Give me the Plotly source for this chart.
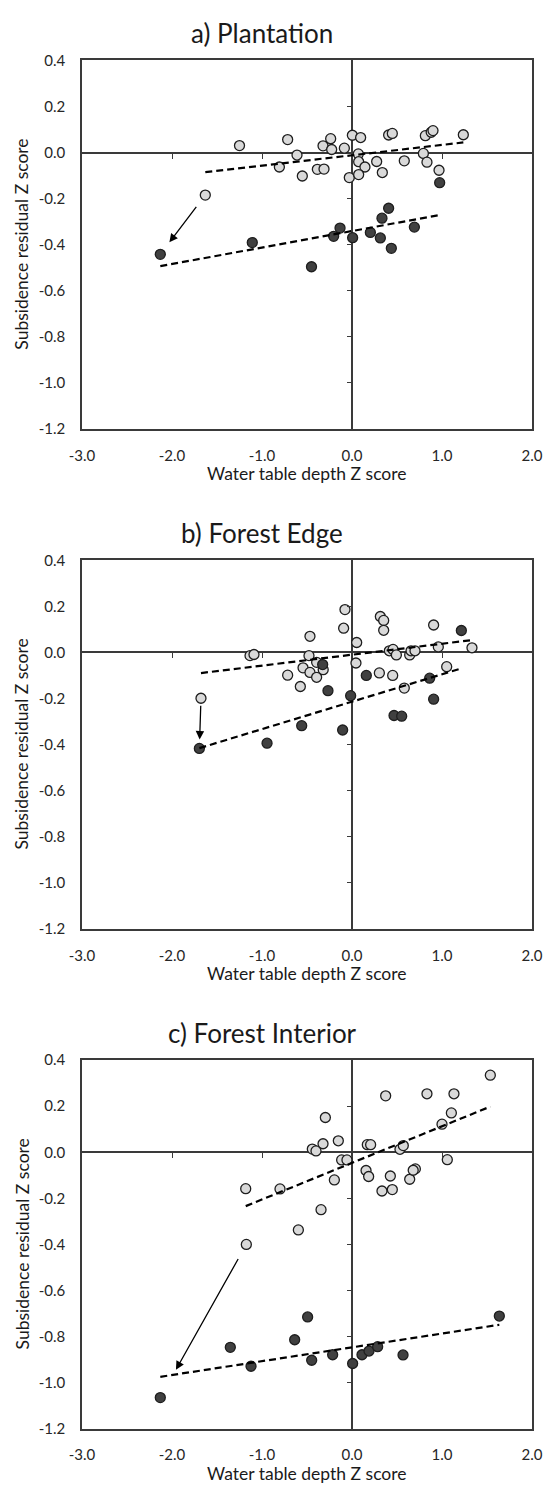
import plotly.graph_objects as go

# ---------------- data ----------------
panel_titles = ["a) Plantation", "b) Forest Edge", "c) Forest Interior"]
x_title = "Water table depth Z score"
y_title = "Subsidence residual Z score"

x_tick_vals = [-3.0, -2.0, -1.0, 0.0, 1.0, 2.0]
x_tick_text = ["-3.0", "-2.0", "-1.0", "0.0", "1.0", "2.0"]
y_tick_vals = [0.4, 0.2, 0.0, -0.2, -0.4, -0.6, -0.8, -1.0, -1.2]
y_tick_text = ["0.4", "0.2", "0.0", "-0.2", "-0.4", "-0.6", "-0.8", "-1.0", "-1.2"]
x_inner_ticks = [-2.0, -1.0, 1.0]
y_inner_ticks = [0.2, -0.2, -0.4, -0.6, -0.8, -1.0]

# a) Plantation
a_light_x = [-1.25, -0.715, -0.611, -0.807, -0.552, -1.63, -0.322, -0.237, -0.226, -0.085,
             0.004, 0.096, -0.385, -0.311, 0.07, 0.074, 0.144, -0.030, 0.074, 0.274,
             0.337, 0.407, 0.448, 0.581, 0.815, 0.88, 0.90, 0.793, 0.833, 0.967, 1.237]
a_light_y = [0.03, 0.056, -0.011, -0.063, -0.102, -0.185, 0.029, 0.060, 0.013, 0.019,
             0.075, 0.065, -0.073, -0.072, -0.006, -0.040, -0.063, -0.109, -0.096, -0.039,
             -0.087, 0.076, 0.083, -0.036, 0.073, 0.088, 0.095, -0.004, -0.042, -0.077, 0.077]
a_dark_x = [-2.13, -1.108, -0.45, 0.974, 0.407, 0.333, 0.693, -0.133, -0.204, 0.007,
            0.204, 0.315, 0.437]
a_dark_y = [-0.442, -0.391, -0.496, -0.131, -0.242, -0.285, -0.324, -0.328, -0.364, -0.370,
            -0.347, -0.371, -0.416]
a_trend_light = [0.045, -0.012]   # slope, intercept
a_trend_dark = [0.0716, -0.341]
a_arrow = [5, 0]                  # light index -> dark index

# b) Forest Edge
b_light_x = [-0.467, -1.133, -1.089, -0.478, -0.393, -0.544, -0.467, -0.393, -0.715, -0.574,
             -1.678, -0.32, -0.078, -0.093, 0.052, 0.044, 0.315, 0.352, 0.352, 0.304,
             0.452, 0.415, 0.456, 0.493, 0.641, 0.656, 0.70, 0.581, 0.907, 0.959, 1.052, 1.333]
b_light_y = [0.070, -0.014, -0.009, -0.014, -0.043, -0.067, -0.087, -0.108, -0.099, -0.148,
             -0.199, -0.075, 0.186, 0.105, 0.043, -0.046, 0.156, 0.139, 0.096, -0.089,
             -0.100, 0.007, 0.013, -0.011, -0.011, 0.007, 0.007, -0.155, 0.119, 0.024, -0.062, 0.020]
b_dark_x = [-1.696, -0.559, -0.944, -0.326, 1.215, 0.159, 0.863, 0.907, -0.015, -0.267,
            0.467, 0.552, -0.104]
b_dark_y = [-0.417, -0.318, -0.394, -0.053, 0.095, -0.100, -0.112, -0.203, -0.188, -0.166,
            -0.274, -0.277, -0.337]
b_trend_light = [0.0475, -0.010]
b_trend_dark = [0.119, -0.214]
b_arrow = [10, 0]

# c) Forest Interior
c_light_x = [-1.181, -0.80, -0.441, -0.40, -0.322, -0.296, -0.152, -0.115, -0.056, -0.196,
             -0.344, 0.156, 0.185, 0.170, 0.207, 0.374, 0.426, 0.333, 0.448, 0.533,
             0.570, 0.641, 0.704, 0.68, 0.833, 1.0, 1.104, 1.133, 1.059, 1.537, -0.596, -1.174]
c_light_y = [-0.158, -0.159, 0.014, 0.006, 0.037, 0.151, 0.050, -0.033, -0.033, -0.120,
             -0.249, -0.079, -0.105, 0.033, 0.033, 0.245, -0.103, -0.168, -0.162, 0.013,
             0.029, -0.117, -0.072, -0.078, 0.254, 0.122, 0.171, 0.254, -0.032, 0.335, -0.337, -0.40]
c_dark_x = [-2.13, -1.352, -1.122, -0.493, -0.637, -0.448, -0.215, 0.007, 0.111, 0.189,
            0.285, 0.567, 1.637]
c_dark_y = [-1.065, -0.847, -0.929, -0.715, -0.814, -0.903, -0.879, -0.917, -0.879, -0.863,
            -0.844, -0.880, -0.711]
c_trend_light = [0.159, -0.046]
c_trend_dark = [0.060, -0.847]
c_arrow = [31, 0]

panels = [
    (a_light_x, a_light_y, a_dark_x, a_dark_y, a_trend_light, a_trend_dark, a_arrow),
    (b_light_x, b_light_y, b_dark_x, b_dark_y, b_trend_light, b_trend_dark, b_arrow),
    (c_light_x, c_light_y, c_dark_x, c_dark_y, c_trend_light, c_trend_dark, c_arrow),
]

# ---------------- style / geometry ----------------
W, H = 552, 1491
L, R = 82, 20
PW = W - L - R
tops = [51, 557, 1063]
PH = 373
arrow_standoffs = [(15, 13), (9, 6), (32, 15)]  # (head standoff, tail standoff) px

FONT = "Lato"
AX = "#3a3a3a"
LIGHT = "#d9d9d9"
DARK = "#404040"
EDGE = "#1e1e1e"

X_RANGE = [-3, 2]
Y_RANGE = [-1.2, 0.4]

fig = go.Figure()
layout = dict(
    width=W, height=H,
    margin=dict(l=L, r=R, t=0, b=0),
    paper_bgcolor="white", plot_bgcolor="white",
    showlegend=False,
    font=dict(family=FONT, color="#1a1a1a"),
)
annotations = []

def px_to_paper_y(p):
    return 1 - p / H

def px_to_paper_x(p):
    return (p - L) / PW

for i, (lx, ly, dx, dy, tl, td, arr) in enumerate(panels):
    n = i + 1
    top = tops[i]
    dom = [1 - (top + PH) / H, 1 - top / H]
    xa = "x" if n == 1 else f"x{n}"
    ya = "y" if n == 1 else f"y{n}"
    xo = f"x{n + 3}"
    yo = f"y{n + 3}"
    kx = "xaxis" if n == 1 else f"xaxis{n}"
    ky = "yaxis" if n == 1 else f"yaxis{n}"

    layout[kx] = dict(
        domain=[0, 1], anchor=ya, range=X_RANGE, tickvals=x_tick_vals, ticktext=x_tick_text,
        ticks="", showgrid=False, showline=True, mirror=True, linecolor=AX, linewidth=1.5,
        zeroline=True, zerolinecolor=AX, zerolinewidth=1.5,
        tickfont=dict(family=FONT, size=15, color="#262626"), ticklabelstandoff=12,
        fixedrange=True,
    )
    layout[ky] = dict(
        domain=dom, anchor=xa, range=Y_RANGE, tickvals=y_tick_vals, ticktext=y_tick_text,
        ticks="", showgrid=False, showline=True, mirror=True, linecolor=AX, linewidth=1.5,
        zeroline=True, zerolinecolor=AX, zerolinewidth=1.5,
        tickfont=dict(family=FONT, size=15, color="#262626"), ticklabelstandoff=12,
        fixedrange=True,
    )
    zero_frac = (0 - Y_RANGE[0]) / (Y_RANGE[1] - Y_RANGE[0])
    layout[f"xaxis{n + 3}"] = dict(
        overlaying=xa, anchor="free", position=dom[0] + zero_frac * (dom[1] - dom[0]),
        side="bottom", range=X_RANGE, tickvals=x_inner_ticks, ticks="outside", ticklen=5,
        tickwidth=1.3, tickcolor=AX, showticklabels=False, showline=False, showgrid=False,
        zeroline=False, fixedrange=True,
    )
    xz_frac = (0 - X_RANGE[0]) / (X_RANGE[1] - X_RANGE[0])
    layout[f"yaxis{n + 3}"] = dict(
        overlaying=ya, anchor="free", position=xz_frac, side="left",
        range=Y_RANGE, tickvals=y_inner_ticks, ticks="outside", ticklen=5,
        tickwidth=1.3, tickcolor=AX, showticklabels=False, showline=False, showgrid=False,
        zeroline=False, fixedrange=True,
    )

    # markers
    fig.add_trace(go.Scatter(x=lx, y=ly, xaxis=xa, yaxis=ya, mode="markers",
                             marker=dict(size=10, color=LIGHT, line=dict(color=EDGE, width=1.3)),
                             hoverinfo="skip"))
    fig.add_trace(go.Scatter(x=dx, y=dy, xaxis=xa, yaxis=ya, mode="markers",
                             marker=dict(size=10, color=DARK, line=dict(color=EDGE, width=1.3)),
                             hoverinfo="skip"))
    # trend lines (on overlay axes so they are drawn above markers)
    for xs, (m, b) in ((lx, tl), (dx, td)):
        x0, x1 = min(xs), max(xs)
        fig.add_trace(go.Scatter(x=[x0, x1], y=[m * x0 + b, m * x1 + b], xaxis=xo, yaxis=yo,
                                 mode="lines", line=dict(color="black", width=2.2, dash="7px,4px"),
                                 hoverinfo="skip"))
    # arrow from moved light point to dark point
    li, di = arr
    hs, ts = arrow_standoffs[i]
    annotations.append(dict(
        x=dx[di], y=dy[di], ax=lx[li], ay=ly[li], xref=xa, yref=ya, axref=xa, ayref=ya,
        showarrow=True, arrowhead=2, arrowsize=1.3, arrowwidth=1.3, arrowcolor="black",
        standoff=hs, startstandoff=ts, text="",
    ))
    off = top - tops[0]
    annotations.append(dict(
        text=panel_titles[i], xref="paper", yref="paper", x=px_to_paper_x(262),
        y=px_to_paper_y(23 + off), xanchor="center", yanchor="middle", showarrow=False,
        font=dict(family=FONT, size=26, color="#1a1a1a"),
    ))
    annotations.append(dict(
        text=x_title, xref="paper", yref="paper", x=px_to_paper_x(L + PW / 2),
        y=px_to_paper_y(469 + off), xanchor="center", yanchor="middle", showarrow=False,
        font=dict(family=FONT, size=17.5, color="#1a1a1a"),
    ))
    annotations.append(dict(
        text=y_title, xref="paper", yref="paper", x=px_to_paper_x(22),
        y=px_to_paper_y(top + PH / 2), xanchor="center", yanchor="middle", showarrow=False,
        textangle=-90, font=dict(family=FONT, size=17.5, color="#1a1a1a"),
    ))

layout["annotations"] = annotations
fig.update_layout(**layout)
fig.write_html("out.html", config={"displayModeBar": False},
               post_script="document.body.style.margin='0px';")
